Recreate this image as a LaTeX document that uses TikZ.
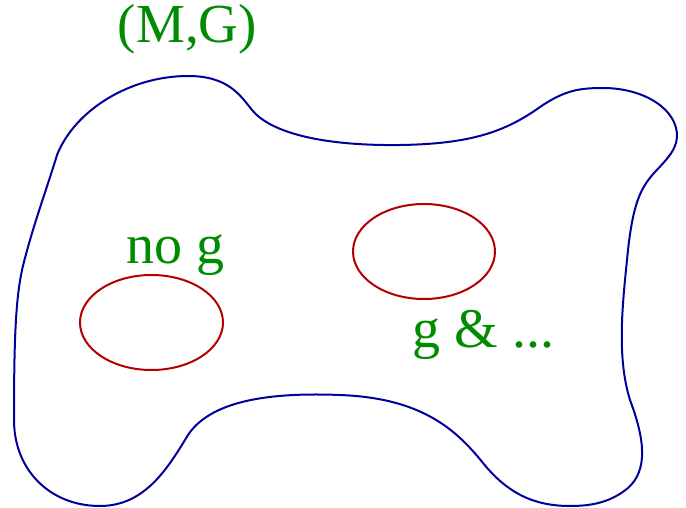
\documentclass[tikz,border=0pt]{standalone}
\usepackage{fontspec}
\setmainfont{Liberation Serif}
\definecolor{lblgreen}{RGB}{0,140,0}
\definecolor{blobblue}{RGB}{0,0,155}
\definecolor{ellred}{RGB}{180,0,0}
\tikzset{
  lbl/.style={text=lblgreen, inner sep=0pt, anchor=base, font=\fontsize{56}{60}\selectfont},
  blob/.style={draw=blobblue, line width=2pt},
  ring/.style={draw=ellred, line width=2pt}
}
\begin{document}
\begin{tikzpicture}[x=1pt,y=-1pt]
\useasboundingbox (0,0) rectangle (686,508);
\draw[blob] (188,76) .. controls (228,76) and (240,95) .. (252,110)
  .. controls (270,132) and (320,146) .. (400,145)
  .. controls (470,144) and (505,132) .. (540,107)
  .. controls (565,90) and (580,88) .. (603,88)
  .. controls (645,88) and (678,110) .. (677,137)
  .. controls (676,150) and (668,158) .. (655,172)
  .. controls (640,188) and (633,205) .. (628,250)
  .. controls (623,300) and (616,355) .. (630,400)
  .. controls (645,440) and (648,470) .. (628,488)
  .. controls (610,503) and (590,506) .. (570,506)
  .. controls (530,506) and (505,490) .. (483,463)
  .. controls (455,428) and (420,398) .. (340,395)
  .. controls (265,392) and (210,402) .. (188,435)
  .. controls (168,468) and (145,506) .. (100,506)
  .. controls (50,506) and (14,470) .. (14,420)
  .. controls (14,330) and (16,290) .. (25,258)
  .. controls (35,220) and (48,185) .. (57,155)
  .. controls (75,110) and (130,76) .. (188,76) -- cycle;
\draw[ring] (151.5,322.5) ellipse [x radius=71.5, y radius=47.5];
\draw[ring] (424,251.5) ellipse [x radius=71, y radius=47.5];
\node[lbl, font=\fontsize{55}{60}\selectfont] (mg) at (187.5,43) {(M,G)};
\node[lbl] (nog) at (175.5,263) {no g};
\node[lbl] (gand) at (483.5,347) {g \& ...};
\end{tikzpicture}
\end{document}
